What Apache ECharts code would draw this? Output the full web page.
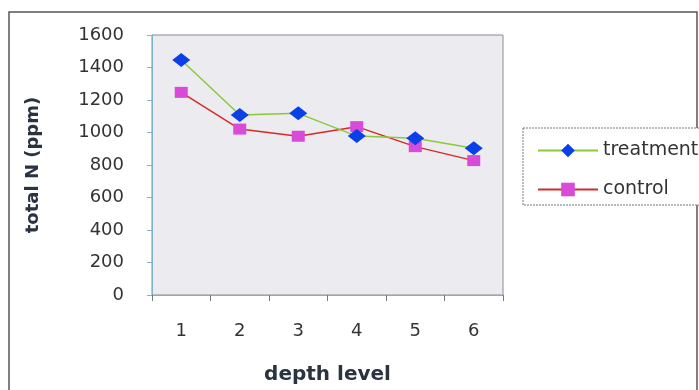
<!DOCTYPE html>
<html><head><meta charset="utf-8">
<script src="https://cdn.jsdelivr.net/npm/echarts@6/dist/echarts.min.js"></script>
<style>html,body{margin:0;padding:0;background:#fff}#c{width:699px;height:390px}</style>
</head><body><div id="c"></div>
<script>
const categories = ['1','2','3','4','5','6'];
const treatment = [1446, 1108, 1118, 978, 964, 903];
const control = [1247, 1021, 977, 1036, 913, 827];
const yTicks = [0, 200, 400, 600, 800, 1000, 1200, 1400, 1600];

const FONT = '"DejaVu Sans", "Liberation Sans", Arial, sans-serif';
const chart = echarts.init(document.getElementById('c'), null, {renderer:'canvas'});
chart.setOption({
  animation:false,
  backgroundColor:'#ffffff',
  textStyle:{fontFamily:FONT},
  grid:{left:152, right:196, top:35, bottom:95, show:true, backgroundColor:'#ebebf0', borderColor:'#8a8a95', borderWidth:1},
  graphic:[
    {type:'rect', shape:{x:9, y:12, width:688, height:400}, style:{fill:'none', stroke:'#555', lineWidth:1.5}, z:-1},
    {type:'rect', shape:{x:523, y:128, width:200, height:77}, style:{fill:'#fff', stroke:'#777', lineWidth:1, lineDash:[2,1]}, z:0}
  ],
  legend:{
    orient:'vertical', left:532, top:136, itemWidth:60, itemHeight:17, itemGap:20,
    textStyle:{fontSize:19, color:'#333', fontFamily:FONT},
    data:['treatment','control'], z:5
  },
  xAxis:{
    type:'category', data:categories, boundaryGap:true,
    name:'depth level', nameLocation:'middle', nameGap:70,
    nameTextStyle:{fontSize:20, fontWeight:'bold', color:'#2a3340', fontFamily:FONT},
    axisLine:{lineStyle:{color:'#7fb0cc', width:1}},
    axisTick:{show:true, alignWithLabel:false, length:6, lineStyle:{color:'#777'}},
    axisLabel:{fontSize:18, color:'#333', margin:27},
    splitLine:{show:false}
  },
  yAxis:{
    type:'value', min:0, max:1600, interval:200,
    name:'total N (ppm)', nameLocation:'middle', nameGap:110, nameRotate:90,
    nameTextStyle:{fontSize:18, fontWeight:'bold', color:'#2a3340', fontFamily:FONT},
    axisLine:{show:true, lineStyle:{color:'#7fb0cc'}},
    axisTick:{show:true, length:5, lineStyle:{color:'#7fb0cc'}},
    axisLabel:{fontSize:18, color:'#333', margin:28, formatter:(v)=>yTicks.includes(v)?String(v):''},
    splitLine:{show:false}
  },
  series:[
    {name:'treatment', type:'line', data:treatment, symbol:'diamond', symbolSize:[18,14],
     lineStyle:{color:'#8cc83c', width:1.5}, itemStyle:{color:'#0a40e8'}, z:3},
    {name:'control', type:'line', data:control, symbol:'rect', symbolSize:[13,11],
     lineStyle:{color:'#d42a2a', width:1.5}, itemStyle:{color:'#d84ad8'}, z:2}
  ]
});
</script></body></html>
